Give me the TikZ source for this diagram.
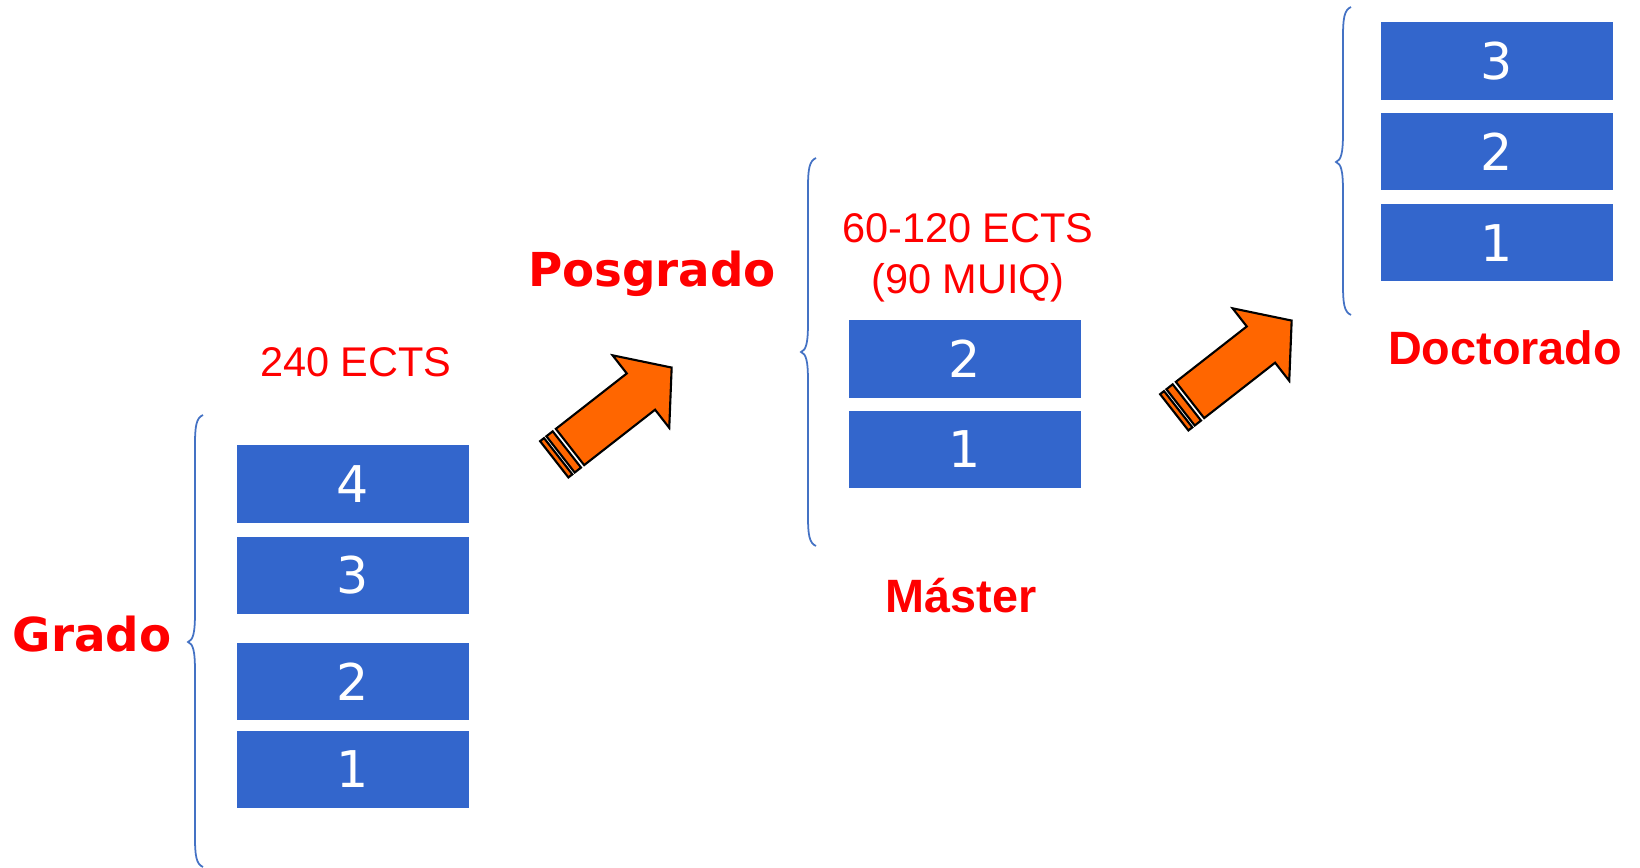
\documentclass[tikz,border=0pt]{standalone}
\usepackage{fontspec}
\setmainfont{Liberation Sans}
\newfontfamily\stagefont{DejaVu Sans}
\usepackage{tikz}
\usetikzlibrary{positioning}

\definecolor{yearblue}{HTML}{3366CC}
\definecolor{braceblue}{HTML}{4472C4}
\definecolor{stagered}{HTML}{FF0000}
\definecolor{arroworange}{HTML}{FF6600}

% curly brace: x, top, middle, bottom (in px)
\newcommand{\levelbrace}[4]{%
  \draw[brc] (#1+8,#2) .. controls (#1+1,#2+3) and (#1,#2+12) .. (#1,#2+30)
    -- (#1,#3-30) .. controls (#1,#3-8) and (#1-2,#3-2) .. (#1-7,#3)
    .. controls (#1-2,#3+2) and (#1,#3+8) .. (#1,#3+30)
    -- (#1,#4-30) .. controls (#1,#4-12) and (#1+1,#4-3) .. (#1+8,#4);}

% block arrow with two stripes at its tail
\newcommand{\stagearrow}[1]{%
  \begin{scope}[shift={#1}, rotate=38]
    \draw[blk] (0,-23) -- (90,-23) -- (90,-46) -- (129,0) -- (90,46) -- (90,23) -- (0,23) -- cycle;
    \draw[blk] (-4,-23) rectangle (-12,23);
    \draw[blk] (-15,-23) rectangle (-20,23);
  \end{scope}}

\begin{document}
\begin{tikzpicture}[
  x=0.01cm, y=-0.01cm,
  year/.style={fill=yearblue, text=white, inner sep=0pt, minimum width=2.32cm,
               minimum height=0.77cm, font=\stagefont\fontsize{14.4}{16}\selectfont},
  stage/.style={text=stagered, inner sep=0pt, font=\stagefont\bfseries\fontsize{13.3}{16}\selectfont},
  stagealt/.style={stage, font=\bfseries\fontsize{13.3}{16}\selectfont},
  credits/.style={text=stagered, inner sep=0pt, align=center,
                  font=\fontsize{11.8}{14.5}\selectfont},
  brc/.style={draw=braceblue, line width=0.5pt},
  blk/.style={draw=black, fill=arroworange, line width=0.6pt, line join=miter}
]
  \useasboundingbox (0,0) rectangle (1640,868);

  % Grado
  \node[year] (g4) at (353,484) {4};
  \node[year, below=1.3mm of g4] (g3) {3};
  \node[year, below=2.8mm of g3] (g2) {2};
  \node[year, below=0.9mm of g2] (g1) {1};
  \node[credits, anchor=base] (gects) at (356,377) {240 ECTS};
  \node[stage, anchor=base] (grado) at (92,652) {Grado};
  \levelbrace{195}{415}{642}{867}

  % Master
  \node[year] (m2) at (965,359) {2};
  \node[year, below=1.2mm of m2] (m1) {1};
  \node[credits] (mects) at (968,258) {60-120 ECTS\\(90 MUIQ)};
  \node[stagealt, anchor=base] (master) at (961,613) {Máster};
  \node[stage, anchor=base] (posgrado) at (652,287) {Posgrado};
  \levelbrace{808}{158}{352}{546}

  % Doctorado
  \node[year] (d3) at (1497,61) {3};
  \node[year, below=1.2mm of d3] (d2) {2};
  \node[year, below=1.3mm of d2] (d1) {1};
  \node[stagealt, anchor=base] (doctorado) at (1505,365) {Doctorado};
  \levelbrace{1343}{7}{162}{315}

  \stagearrow{(570,447)}
  \stagearrow{(1190,400)}
\end{tikzpicture}
\end{document}
